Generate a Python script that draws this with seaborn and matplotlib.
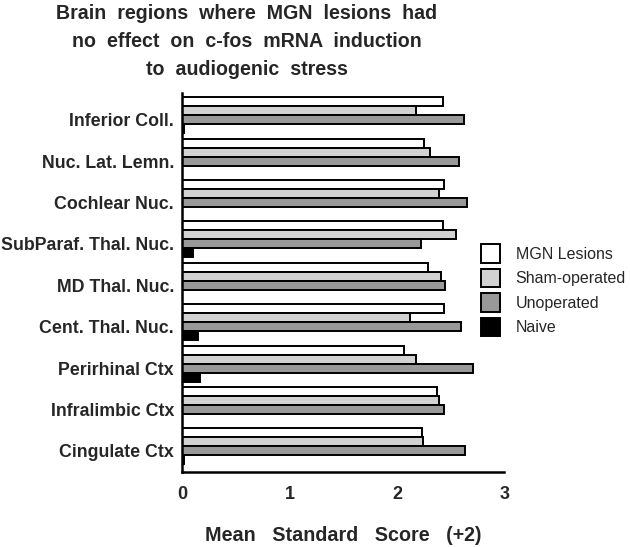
import matplotlib
matplotlib.use("Agg")
import matplotlib.pyplot as plt
import matplotlib.transforms as mtransforms
from matplotlib.patches import Patch
import seaborn as sns
import pandas as pd

regions = ["Inferior Coll.", "Nuc. Lat. Lemn.", "Cochlear Nuc.", "SubParaf. Thal. Nuc.",
           "MD Thal. Nuc.", "Cent. Thal. Nuc.", "Perirhinal Ctx", "Infralimbic Ctx",
           "Cingulate Ctx"]
groups = ["MGN Lesions", "Sham-operated", "Unoperated", "Naive"]
mgn_lesions = [2.43, 2.25, 2.44, 2.43, 2.29, 2.44, 2.07, 2.37, 2.23]
sham_operated = [2.18, 2.31, 2.39, 2.55, 2.41, 2.12, 2.18, 2.39, 2.24]
unoperated = [2.62, 2.58, 2.65, 2.22, 2.45, 2.60, 2.71, 2.44, 2.63]
naive = [0.02, 0.0, 0.0, 0.10, 0.0, 0.15, 0.165, 0.0, 0.02]
x_ticks = [0, 1, 2, 3]

series = {"MGN Lesions": mgn_lesions, "Sham-operated": sham_operated,
          "Unoperated": unoperated, "Naive": naive}
rows = []
for g in groups:
    for r, v in zip(regions, series[g]):
        rows.append({"region": r, "group": g, "score": v})
df = pd.DataFrame(rows)

colors = {"MGN Lesions": "#ffffff", "Sham-operated": "#d2d2d2",
          "Unoperated": "#999999", "Naive": "#000000"}

sns.set_style("white")
plt.rcParams["font.family"] = ["Liberation Sans", "DejaVu Sans"]

fig = plt.figure(figsize=(6.3, 5.47), dpi=100)
ax = fig.add_axes([0.2894, 0.1376, 0.8005 - 0.2894, 0.8294 - 0.1376])

sns.barplot(data=df, y="region", x="score", hue="group", order=regions,
            hue_order=groups, palette=colors, orient="h", width=0.87,
            edgecolor="black", linewidth=1.4, ax=ax, legend=False,
            errorbar=None, saturation=1)

ax.set_xlim(0, 3)
ax.set_ylim(8.61, -0.53)
ax.set_xticks(x_ticks)
ax.set_xticklabels([str(t) for t in x_ticks], fontsize=13, fontweight="bold")
ax.tick_params(axis="x", direction="out", length=6, width=1.8, color="black", pad=4)
ax.tick_params(axis="y", length=0, pad=6)
ax.set_yticks(range(len(regions)))
ax.set_yticklabels(regions, fontsize=12.8, fontweight="bold")
offset = mtransforms.ScaledTranslation(0, -4.5 / 100, fig.dpi_scale_trans)
for lab in ax.get_yticklabels():
    lab.set_transform(lab.get_transform() + offset)

for s in ["top", "right"]:
    ax.spines[s].set_visible(False)
for s in ["left", "bottom"]:
    ax.spines[s].set_linewidth(1.8)
    ax.spines[s].set_color("black")

ax.set_ylabel("")
ax.set_xlabel("Mean   Standard   Score   (+2)", fontsize=14.2, fontweight="bold",
              labelpad=17)

fig.text(0.392, 0.993,
         "Brain  regions  where  MGN  lesions  had\nno  effect  on  c-fos  mRNA  induction\nto  audiogenic  stress",
         ha="center", va="top", fontsize=14.1, fontweight="bold", linespacing=1.6)

handles = [Patch(facecolor=colors[g], edgecolor="black", linewidth=1.4, label=g)
           for g in groups]
leg = fig.legend(handles=handles, loc="upper left", bbox_to_anchor=(0.74, 0.58),
                 frameon=False, fontsize=11.5, handlelength=1.2, handleheight=1.4,
                 handletextpad=1.0, labelspacing=0.38)

fig.savefig("out.png", dpi=100)
